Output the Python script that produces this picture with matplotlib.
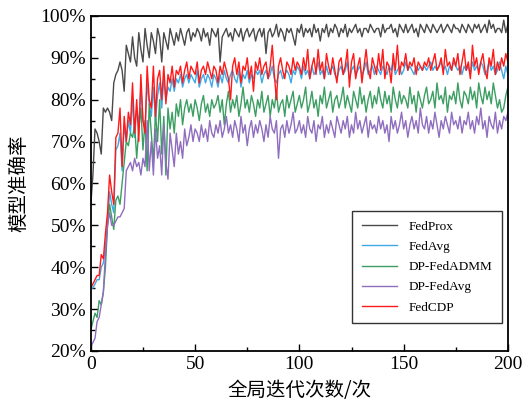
import numpy as np
import matplotlib.pyplot as plt
from matplotlib.ticker import MultipleLocator, FuncFormatter

# accuracy (%) per global iteration
fedprox = [55, 62, 73, 72, 70, 67, 78, 77, 78, 77, 75, 84, 86, 87, 89, 87, 82, 93, 91, 89,
           95, 90, 88, 96, 92, 89, 97, 93, 90, 96, 94, 91, 97, 95, 89, 96, 94, 92, 97, 95,
           93, 96, 94, 97, 95, 93, 96, 97, 94, 96, 95, 97, 96, 94, 97, 95, 96, 93, 97, 96,
           95, 97, 89, 95, 96, 97, 95, 96, 94, 97, 96, 95, 97, 94, 96, 97, 95, 96, 97, 94,
           96, 97, 95, 97, 91, 96, 97, 95, 96, 98, 95, 97, 96, 94, 97, 96, 97, 95, 93, 97,
           96, 98, 95, 97, 96, 97, 95, 98, 96, 97, 94, 97, 96, 98, 95, 97, 96, 98, 97, 95,
           97, 96, 98, 95, 97, 96, 97, 98, 96, 97, 95, 97, 97, 96, 98, 97, 96, 97, 97, 95,
           98, 96, 97, 97, 98, 96, 97, 95, 98, 97, 96, 98, 96, 97, 98, 96, 97, 95, 98, 97,
           96, 98, 97, 96, 98, 97, 96, 97, 98, 96, 97, 98, 97, 96, 98, 97, 97, 96, 98, 97,
           96, 98, 97, 96, 98, 97, 98, 96, 97, 98, 96, 99, 97, 98, 96, 97, 97, 96, 99, 96,
           98]
fedavg = [35, 35, 36, 37, 37, 40, 41, 45, 50, 58, 55, 53, 68, 69, 72, 63, 74, 70, 75, 72,
          80, 71, 78, 74, 83, 75, 73, 84, 79, 76, 83, 75, 81, 84, 78, 85, 80, 83, 82, 85,
          82, 85, 84, 86, 83, 85, 86, 84, 86, 85, 84, 87, 83, 85, 86, 84, 86, 85, 83, 86,
          85, 83, 86, 84, 87, 85, 84, 86, 87, 85, 84, 87, 83, 86, 85, 87, 84, 86, 85, 87,
          86, 87, 84, 86, 87, 85, 86, 88, 85, 84, 86, 87, 85, 86, 87, 86, 84, 87, 86, 88,
          87, 85, 88, 86, 87, 85, 88, 86, 87, 89, 86, 87, 85, 88, 86, 87, 88, 86, 85, 87,
          88, 86, 87, 89, 85, 87, 88, 86, 87, 88, 86, 87, 89, 86, 87, 88, 86, 88, 87, 86,
          88, 87, 86, 88, 87, 89, 86, 87, 88, 86, 87, 89, 87, 88, 87, 86, 88, 87, 88, 87,
          88, 87, 88, 89, 87, 88, 87, 88, 89, 87, 88, 86, 88, 87, 89, 88, 87, 88, 86, 88,
          87, 88, 86, 89, 87, 88, 87, 89, 88, 86, 87, 89, 87, 88, 86, 87, 89, 87, 85, 88,
          86]
dp_fedadmm = [25, 27, 29, 28, 32, 31, 34, 40, 50, 55, 52, 49, 56, 57, 55, 60, 65, 70, 69, 72,
              71, 74, 66, 73, 78, 68, 75, 63, 79, 72, 65, 77, 70, 80, 67, 76, 62, 78, 73, 77,
              72, 79, 76, 80, 74, 78, 80, 77, 79, 76, 80, 78, 75, 79, 81, 77, 79, 76, 80, 78,
              79, 81, 77, 80, 74, 79, 82, 77, 80, 78, 81, 76, 79, 83, 78, 80, 77, 81, 79, 76,
              80, 78, 82, 77, 79, 81, 76, 80, 78, 82, 77, 79, 80, 76, 81, 78, 80, 82, 77, 79,
              81, 78, 80, 83, 77, 79, 82, 78, 80, 76, 81, 79, 83, 78, 80, 82, 77, 80, 81, 78,
              80, 83, 78, 81, 79, 77, 82, 80, 78, 83, 79, 81, 77, 80, 82, 78, 81, 79, 83, 80,
              78, 82, 79, 81, 77, 83, 80, 78, 82, 79, 81, 80, 78, 83, 79, 81, 77, 82, 80, 78,
              81, 83, 79, 80, 82, 78, 84, 80, 81, 79, 83, 77, 81, 80, 82, 79, 84, 80, 78, 82,
              81, 79, 83, 80, 82, 78, 84, 81, 79, 83, 80, 82, 79, 84, 81, 78, 80, 77, 78, 81,
              83]
dp_fedavg = [21, 22, 23, 27, 28, 31, 34, 43, 50, 53, 50, 50, 51, 52, 52, 53, 54, 63, 64, 65,
             63, 66, 64, 65, 62, 66, 64, 75, 63, 70, 62, 73, 66, 69, 62, 74, 65, 61, 72, 68,
             64, 72, 67, 70, 66, 73, 69, 71, 74, 70, 73, 72, 70, 74, 71, 73, 70, 75, 72, 71,
             74, 72, 75, 71, 73, 76, 72, 74, 71, 75, 73, 70, 76, 72, 74, 69, 73, 75, 71, 74,
             72, 75, 73, 70, 74, 71, 76, 73, 72, 75, 66, 73, 74, 71, 75, 72, 74, 77, 72, 73,
             75, 72, 74, 71, 76, 73, 72, 75, 70, 74, 73, 76, 71, 74, 72, 75, 73, 71, 76, 74,
             72, 75, 73, 76, 71, 74, 72, 77, 73, 75, 72, 74, 76, 71, 75, 73, 74, 72, 76, 73,
             75, 72, 74, 70, 76, 73, 75, 72, 74, 77, 73, 75, 71, 74, 76, 73, 75, 72, 78, 74,
             73, 76, 72, 75, 73, 77, 74, 71, 75, 73, 76, 74, 72, 77, 74, 75, 73, 76, 72, 75,
             74, 77, 73, 75, 72, 76, 74, 78, 73, 75, 71, 76, 74, 73, 77, 72, 75, 73, 76, 75,
             77]
fedcdp = [35, 36, 37, 38, 38, 43, 42, 48, 53, 62, 58, 55, 71, 72, 78, 64, 76, 70, 77, 74,
          84, 72, 80, 70, 86, 75, 72, 88, 80, 78, 88, 76, 85, 87, 80, 88, 79, 86, 84, 88,
          83, 87, 86, 88, 84, 87, 89, 85, 88, 87, 86, 89, 84, 87, 88, 86, 89, 87, 85, 88,
          87, 84, 88, 86, 89, 87, 85, 80, 88, 90, 86, 89, 84, 88, 87, 90, 85, 88, 82, 89,
          87, 90, 86, 88, 89, 85, 88, 93, 86, 80, 88, 90, 87, 85, 89, 88, 86, 90, 87, 89,
          88, 86, 90, 87, 92, 85, 88, 90, 86, 92, 87, 89, 85, 91, 88, 86, 90, 87, 84, 89,
          90, 86, 88, 92, 83, 89, 91, 85, 88, 90, 84, 88, 92, 87, 85, 90, 88, 86, 91, 87,
          92, 85, 89, 88, 84, 91, 87, 93, 86, 89, 88, 91, 87, 89, 88, 90, 86, 89, 88, 87,
          89, 88, 90, 87, 89, 91, 87, 88, 90, 86, 92, 88, 89, 87, 90, 88, 91, 86, 89, 92,
          87, 89, 85, 93, 88, 90, 86, 89, 91, 87, 85, 90, 88, 92, 86, 89, 87, 90, 88, 91,
          89]

series = [("FedProx", fedprox, "#4a4a4a"),
          ("FedAvg", fedavg, "#3fa9e6"),
          ("DP-FedADMM", dp_fedadmm, "#3c9e62"),
          ("DP-FedAvg", dp_fedavg, "#8f6dbf"),
          ("FedCDP", fedcdp, "#ff1a1a")]

plt.rcParams['font.family'] = ['Liberation Serif', 'Noto Sans CJK SC']

fig = plt.figure(figsize=(5.22, 4.08), dpi=100)
ax = fig.add_axes([0.174, 0.140, 0.799, 0.821])

for name, vals, col in series:
    ax.plot(np.arange(len(vals)), vals, color=col, lw=1.0, label=name)

ax.set_xlim(0, 200)
ax.set_ylim(20, 100)
ax.xaxis.set_major_locator(MultipleLocator(50))
ax.xaxis.set_minor_locator(MultipleLocator(25))
ax.yaxis.set_major_locator(MultipleLocator(10))
ax.yaxis.set_minor_locator(MultipleLocator(5))
ax.yaxis.set_major_formatter(FuncFormatter(lambda v, p: "%d%%" % v))
ax.tick_params(which='both', direction='in', top=False, right=False, labelsize=14)
ax.tick_params(which='major', length=5, width=1)
ax.tick_params(which='minor', length=3, width=1)
for s in ax.spines.values():
    s.set_linewidth(1.3)

ax.set_xlabel("全局迭代次数/次", fontsize=14, labelpad=5,
              family=['Noto Sans CJK SC', 'Liberation Serif'])
ax.set_ylabel("模型准确率", fontsize=14, labelpad=8,
              family=['Noto Sans CJK SC', 'Liberation Serif'])

leg = ax.legend(loc='lower right', bbox_to_anchor=(0.986, 0.084), borderaxespad=0,
                fontsize=9.5, handlelength=2.7, handletextpad=0.9, fancybox=False,
                edgecolor='#333333', framealpha=1, borderpad=0.7, labelspacing=0.6)
leg.get_frame().set_linewidth(1.0)

plt.savefig("out.png", dpi=100)
